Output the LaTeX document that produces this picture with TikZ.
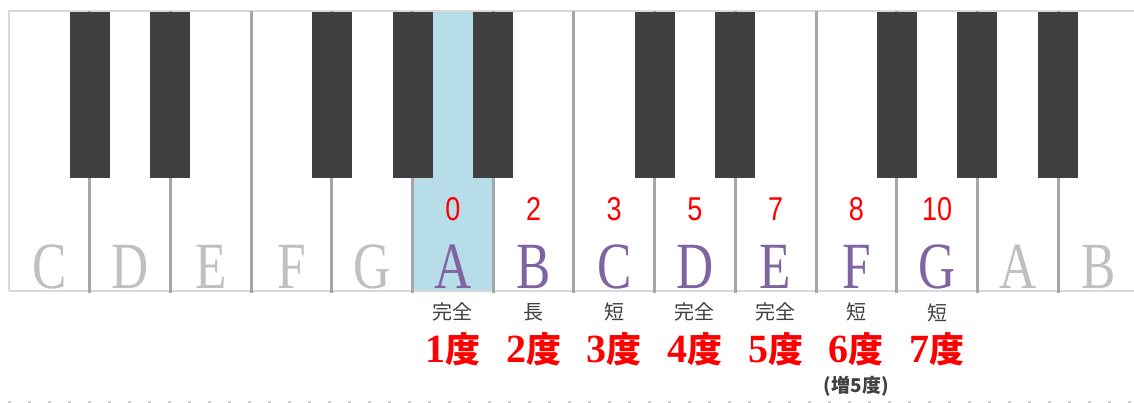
\documentclass[tikz,border=0pt]{standalone}
\usepackage{fontspec}
\setmainfont{Liberation Serif}
\newfontfamily\jpfont{Noto Sans CJK JP}
\newfontfamily\numfont{Liberation Sans}
\definecolor{keyline}{HTML}{A6A6A6}
\definecolor{keyedge}{HTML}{D9D9D9}
\definecolor{blackkey}{HTML}{404040}
\definecolor{rootblue}{HTML}{B7DDE8}
\definecolor{notepurple}{HTML}{8064A2}
\definecolor{notegray}{HTML}{C0C0C0}
\definecolor{degred}{HTML}{FF0000}
\definecolor{qualgray}{HTML}{404040}
\definecolor{dotgray}{HTML}{CCCCCC}
\newcommand{\keyw}{80.7}
\newcommand{\narrowtxt}[2]{\scalebox{#1}[1]{#2}}
\newcommand{\degnum}[1]{{\rmfamily\bfseries\fontsize{40}{40}\selectfont #1}}
\tikzset{
  notename/.style={inner sep=0pt, anchor=base, font=\fontsize{66}{66}\selectfont},
  semis/.style={inner sep=0pt, anchor=base, text=degred, font=\numfont\fontsize{33}{33}\selectfont},
  quality/.style={inner sep=0pt, text=qualgray, font=\jpfont\fontsize{20}{20}\selectfont},
  degree/.style={inner sep=0pt, anchor=base, text=degred, font=\jpfont\bfseries\fontsize{35}{35}\selectfont},
}

\begin{document}
\begin{tikzpicture}[x=1pt,y=-1pt]
  \useasboundingbox (0,0) rectangle (1134,403);
  % root key
  \fill[rootblue] ({9+5*\keyw},11) rectangle ({9+6*\keyw},291);
  % keyboard frame
  \draw[keyedge, line width=1.5pt] (9,291) -- (9,11) -- (1134,11);
  \draw[keyedge, line width=2pt] (9,291) -- (1134,291);
  \foreach \k in {1,...,13}
    \draw[keyline, line width=3pt] ({9+\k*\keyw},11) -- ({9+\k*\keyw},293);
  \foreach \k in {1,2,4,5,6,8,9,11,12,13}
    \fill[blackkey] ({9+\k*\keyw-20},12) rectangle ({9+\k*\keyw+20},178);

  % note names
  \foreach \k/\name/\col in {0/C/notegray,1/D/notegray,2/E/notegray,3/F/notegray,4/G/notegray,
      5/A/notepurple,6/B/notepurple,7/C/notepurple,8/D/notepurple,9/E/notepurple,10/F/notepurple,11/G/notepurple,
      12/A/notegray,13/B/notegray}
    \node[notename, text=\col] (note\k) at ({9+(\k+0.5)*\keyw},288) {\narrowtxt{0.78}{\name}};

  % semitones from A
  \node[semis] (semi5) at ({9+5.5*\keyw},221) {\narrowtxt{0.82}{0}};
  \node[semis] (semi6) at ({9+6.5*\keyw},221) {\narrowtxt{0.82}{2}};
  \node[semis] (semi7) at ({9+7.5*\keyw},221) {\narrowtxt{0.82}{3}};
  \node[semis] (semi8) at ({9+8.5*\keyw},221) {\narrowtxt{0.82}{5}};
  \node[semis] (semi9) at ({9+9.5*\keyw},221) {\narrowtxt{0.82}{7}};
  \node[semis] (semi10) at ({9+10.5*\keyw},221) {\narrowtxt{0.82}{8}};
  \node[semis] (semi11) at ({9+11.5*\keyw},221) {\narrowtxt{0.82}{10}};

  % interval quality
  \node[quality] (qual1) at ({9+5.5*\keyw},312) {完全};
  \node[quality] (qual2) at ({9+6.5*\keyw},312) {長};
  \node[quality] (qual3) at ({9+7.5*\keyw},312) {短};
  \node[quality] (qual4) at ({9+8.5*\keyw},312) {完全};
  \node[quality] (qual5) at ({9+9.5*\keyw},312) {完全};
  \node[quality] (qual6) at ({9+10.5*\keyw},312) {短};
  \node[quality] (qual7) at ({9+11.5*\keyw},313) {短};

  % degrees
  \node[degree] (deg1) at ({9+5.5*\keyw},362) {\degnum{1}度};
  \node[degree] (deg2) at ({9+6.5*\keyw},362) {\degnum{2}度};
  \node[degree] (deg3) at ({9+7.5*\keyw},362) {\degnum{3}度};
  \node[degree] (deg4) at ({9+8.5*\keyw},362) {\degnum{4}度};
  \node[degree] (deg5) at ({9+9.5*\keyw},362) {\degnum{5}度};
  \node[degree] (deg6) at ({9+10.5*\keyw},362) {\degnum{6}度};
  \node[degree] (deg7) at ({9+11.5*\keyw},362) {\degnum{7}度};
  \node[quality, font=\jpfont\bfseries\fontsize{19}{19}\selectfont] (aug5) at ({9+10.5*\keyw},386) {(増5度)};

  % bottom rule
  \draw[dotgray, line width=1.2pt, dash pattern=on 3pt off 17pt] (8,402) -- (1134,402);
\end{tikzpicture}
\end{document}
